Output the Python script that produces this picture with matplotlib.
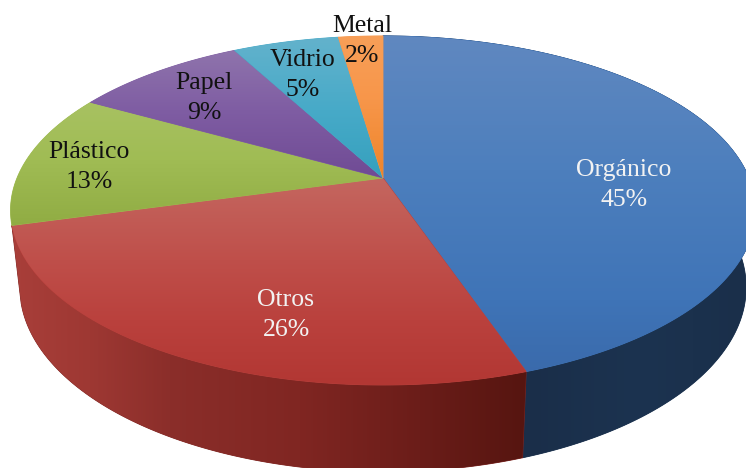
import numpy as np
import matplotlib
matplotlib.use("Agg")
import matplotlib.pyplot as plt
from matplotlib.patches import Polygon
from matplotlib.colors import to_rgb

categories = ["Orgánico", "Otros", "Plástico", "Papel", "Vidrio", "Metal"]
shares = [45, 26, 13, 9, 5, 2]

W, H = 746, 468

# colour stops as (pixel position, colour)
top_stops = {
    "Orgánico": [(36, "#6088c0"), (170, "#4d7fbd"), (300, "#3f74b7"), (375, "#3a6aab")],
    "Otros": [(180, "#c4665f"), (260, "#bf4f4a"), (320, "#ba413d"), (385, "#b23733")],
    "Plástico": [(100, "#a8c262"), (160, "#a0bc54"), (230, "#8fab42")],
    "Papel": [(50, "#8f74ac"), (110, "#7f5da3"), (180, "#6f4a94")],
    "Vidrio": [(40, "#62b2cc"), (110, "#47aac8"), (180, "#35a0bd")],
    "Metal": [(36, "#f79f58"), (100, "#f7964a"), (180, "#ee8428")],
}
side_stops = {
    "Orgánico": [(525, "#1a2e49"), (640, "#1c3350"), (746, "#1a2f4a")],
    "Otros": [(10, "#a93f3a"), (90, "#9e3833"), (170, "#8b2e2a"), (300, "#802622"), (420, "#6b1d19"), (525, "#561510")],
}


def project(theta, lower=False):
    # theta clockwise from the back of the disc, perspective from above
    u, v = np.sin(theta), np.cos(theta)
    w = 1 + 0.186 * v
    if lower:
        return 383 + 0.975 * 366 * u / w, 178 + (75 - 0.975 * 168.5 * v) / w
    return 383 + 366 * u / w, 178 - 168.5 * v / w


def warp(deg):
    # the original 3D renderer bends the slice angles a little
    t = np.clip((deg - 162) / 198, 0, 1)
    return deg - 3.4 * np.sin(np.pi * t ** 3) + np.interp(deg, [0, 162, 255, 360], [0, -0.8, 0, 0])


def ramp(stops, vertical):
    pos = [s[0] for s in stops]
    rgb = np.array([to_rgb(s[1]) for s in stops])
    n = H if vertical else W
    c = np.stack([np.interp(np.arange(n) + 0.5, pos, rgb[:, i]) for i in range(3)], axis=1)
    if vertical:
        return c[:, None, :]
    return c[None, :, :]


def paint(ax, points, stops, vertical, z):
    mid = stops[len(stops) // 2][1]
    patch = Polygon(points, closed=True, facecolor=mid, edgecolor=mid, linewidth=0.6, zorder=z)
    ax.add_patch(patch)
    img = ax.imshow(ramp(stops, vertical), extent=(0, W, H, 0), aspect="auto",
                    interpolation="bilinear", zorder=z + 0.1)
    img.set_clip_path(patch)


fig = plt.figure(figsize=(W / 100, H / 100), dpi=100)
ax = fig.add_axes([0, 0, 1, 1])

edges = np.cumsum([0] + shares) / sum(shares) * 360

for i, cat in enumerate(categories):
    a, b = warp(edges[i]), warp(edges[i + 1])
    th = np.radians(np.linspace(a, b, 200))
    x, y = project(th)
    if cat in side_stops:
        xl, yl = project(th, lower=True)
        pts = np.column_stack([np.r_[x, xl[::-1]], np.r_[y, yl[::-1]]])
        paint(ax, pts, side_stops[cat], False, 1 + i * 0.2)
    pts = np.column_stack([np.r_[383, x], np.r_[178, y]])
    paint(ax, pts, top_stops[cat], True, 3 + i * 0.2)

label_pos = {
    "Orgánico": (624, 185, "#f2f2f2"),
    "Otros": (286, 315, "#f2f2f2"),
    "Plástico": (89, 167, "#111111"),
    "Papel": (204, 98, "#111111"),
    "Vidrio": (303, 75, "#111111"),
    "Metal": (362, 41, "#111111"),
}
for cat, val in zip(categories, shares):
    lx, ly, col = label_pos[cat]
    ax.text(lx, ly, f"{cat}\n{val}%", ha="center", va="center", color=col, fontsize=18.5,
            family="Liberation Serif", linespacing=1.45, zorder=10)

ax.set_xlim(0, W)
ax.set_ylim(H, 0)
ax.axis("off")
fig.savefig("out.png", dpi=100, facecolor="white")
